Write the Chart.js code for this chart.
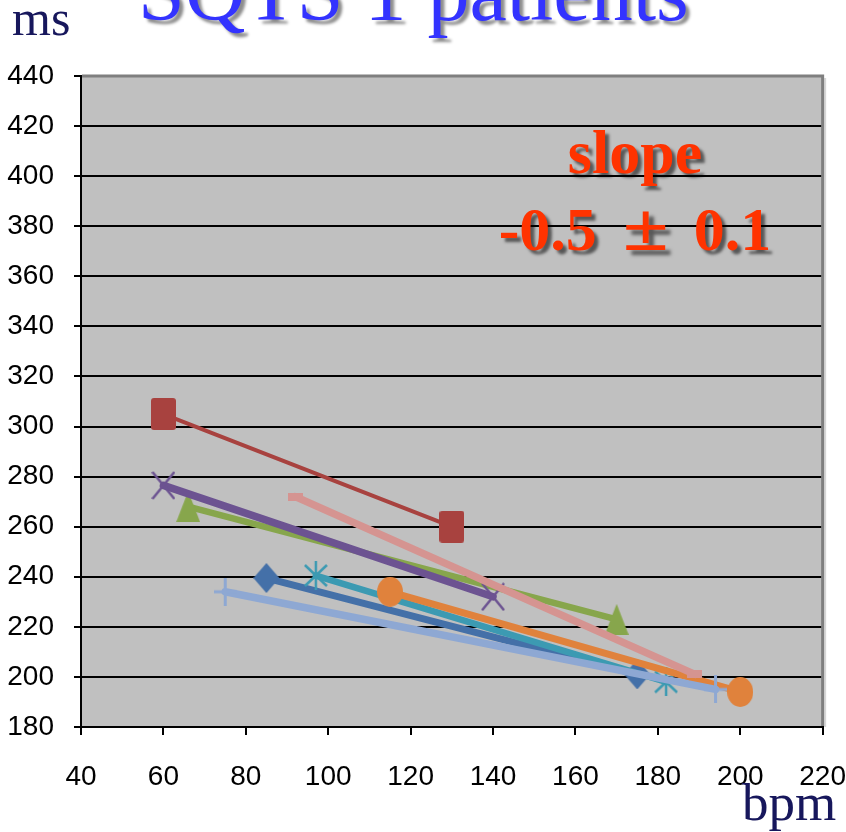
<!DOCTYPE html>
<html>
<head>
<meta charset="utf-8">
<script src="https://cdn.jsdelivr.net/npm/chart.js@4/dist/chart.umd.min.js"></script>
<style>
  html, body { margin: 0; padding: 0; background: #fff; overflow: hidden; }
  #wrap { position: relative; width: 846px; height: 832px; overflow: hidden; }
  #c { position: absolute; left: 0; top: 0; }
  .lbl { position: absolute; white-space: nowrap; line-height: 1;
         font-family: "Liberation Serif", "Times New Roman", serif; }
  #title { left: 138px; top: -50px; font-size: 84px; color: #3333FF;
           text-shadow: 4px 4px 3px rgba(0,0,0,0.45); }
  #unitY { left: 12px; top: -7px; font-size: 50px; color: #17175C; }
  #unitX { left: 742px; top: 776px; font-size: 53px; color: #17175C; }
  .slope { left: 635px; transform: translateX(-50%); font-size: 62px; font-weight: bold;
           color: #FF3300; text-shadow: 4px 4px 3px rgba(0,0,0,0.55); }
  #slope1 { top: 121px; }
  #slope2 { top: 198px; word-spacing: 16px; }
  .pm { display: inline-block; transform: scale(1.35, 1.1); transform-origin: 50% 80%; }
</style>
</head>
<body>
<div id="wrap">
  <canvas id="c" width="846" height="832"></canvas>
  <div class="lbl" id="title">SQTS 1 patients</div>
  <div class="lbl" id="unitY">ms</div>
  <div class="lbl" id="unitX">bpm</div>
  <div class="lbl slope" id="slope1">slope</div>
  <div class="lbl slope" id="slope2">-0.5 <span class="pm">±</span> 0.1</div>
</div>
<script>
// Axis ranges and ticks
const xTicks = [40, 60, 80, 100, 120, 140, 160, 180, 200, 220];
const yTicks = [180, 200, 220, 240, 260, 280, 300, 320, 340, 360, 380, 400, 420, 440];

// Heart rate (bpm) and QT interval (ms) at low and high rate, one pair per patient
const hrBlue      = [85, 175];   const qtBlue      = [239.5, 201];
const hrRed       = [60, 130];   const qtRed       = [305, 260];
const hrGreen     = [66, 170];   const qtGreen     = [268, 223];
const hrPurple    = [60, 140];   const qtPurple    = [276.5, 232];
const hrTeal      = [97, 182];   const qtTeal      = [240.5, 198];
const hrOrange    = [115, 200];  const qtOrange    = [234, 194];
const hrLightBlue = [75, 194];   const qtLightBlue = [234, 195];
const hrPink      = [92, 189];   const qtPink      = [272, 201];

// Marker sprites
function sprite(w, h, draw) {
  const c = document.createElement('canvas');
  c.width = w; c.height = h;
  draw(c.getContext('2d'), w, h);
  return c;
}
function roundRect(g, x, y, w, h, r) {
  g.beginPath();
  g.moveTo(x + r, y); g.lineTo(x + w - r, y); g.quadraticCurveTo(x + w, y, x + w, y + r);
  g.lineTo(x + w, y + h - r); g.quadraticCurveTo(x + w, y + h, x + w - r, y + h);
  g.lineTo(x + r, y + h); g.quadraticCurveTo(x, y + h, x, y + h - r);
  g.lineTo(x, y + r); g.quadraticCurveTo(x, y, x + r, y); g.closePath();
}
const mkSquare = col => sprite(25, 32, (g, w, h) => { g.fillStyle = col; roundRect(g, 0, 0, w, h, 3); g.fill(); });
const mkCircle = col => sprite(26, 30, (g, w, h) => { g.fillStyle = col; g.beginPath(); g.ellipse(w/2, h/2, w/2, h/2, 0, 0, Math.PI*2); g.fill(); });
const mkDiamond = col => sprite(26, 30, (g, w, h) => { g.fillStyle = col; g.beginPath(); g.moveTo(w/2, 0); g.lineTo(w, h/2); g.lineTo(w/2, h); g.lineTo(0, h/2); g.closePath(); g.fill(); });
const mkTriangle = col => sprite(24, 31, (g, w, h) => { g.fillStyle = col; g.beginPath(); g.moveTo(w/2, 0); g.lineTo(w, h); g.lineTo(0, h); g.closePath(); g.fill(); });
const mkX = col => sprite(24, 29, (g, w, h) => { g.strokeStyle = col; g.lineWidth = 2.5; g.beginPath(); g.moveTo(1, 1); g.lineTo(w-1, h-1); g.moveTo(w-1, 1); g.lineTo(1, h-1); g.stroke(); });
const mkStar = col => sprite(24, 29, (g, w, h) => { g.strokeStyle = col; g.lineWidth = 2.5; g.beginPath(); g.moveTo(w/2, 0); g.lineTo(w/2, h); g.moveTo(1, 4); g.lineTo(w-1, h-4); g.moveTo(w-1, 4); g.lineTo(1, h-4); g.stroke(); });
const mkPlus = col => sprite(23, 28, (g, w, h) => { g.strokeStyle = col; g.lineWidth = 3; g.beginPath(); g.moveTo(w/2, 0); g.lineTo(w/2, h); g.moveTo(0, h/2); g.lineTo(w, h/2); g.stroke(); });
const mkDash = col => sprite(15, 8, (g, w, h) => { g.fillStyle = col; g.fillRect(0, 0, w, h); });

const pts = (xs, ys) => xs.map((x, i) => ({ x, y: ys[i] }));

const series = [
  { xs: hrBlue,      ys: qtBlue,      color: '#4470A8', width: 7,   marker: mkDiamond },
  { xs: hrRed,       ys: qtRed,       color: '#A8423F', width: 4,   marker: mkSquare },
  { xs: hrGreen,     ys: qtGreen,     color: '#87A64C', width: 6.5, marker: mkTriangle },
  { xs: hrPurple,    ys: qtPurple,    color: '#6C5391', width: 7.5, marker: mkX },
  { xs: hrTeal,      ys: qtTeal,      color: '#3C9AB2', width: 6.5, marker: mkStar },
  { xs: hrOrange,    ys: qtOrange,    color: '#E0823C', width: 7,   marker: mkCircle },
  { xs: hrLightBlue, ys: qtLightBlue, color: '#8EA8D3', width: 7.5, marker: mkPlus },
  { xs: hrPink,      ys: qtPink,      color: '#D59491', width: 7.5, marker: mkDash }
];

const datasets = series.map((s, i) => ({
  data: pts(s.xs, s.ys),
  showLine: true,
  borderColor: s.color,
  backgroundColor: s.color,
  borderWidth: s.width,
  borderCapStyle: 'round',
  pointStyle: s.marker(s.color),
  pointRadius: 12,
  pointHoverRadius: 12,
  order: series.length - i   // later series are painted on top
}));

// Gray plot background and the gray top/right frame
const plotFrame = {
  id: 'plotFrame',
  beforeDraw(chart) {
    const { ctx, chartArea: a } = chart;
    ctx.save();
    ctx.fillStyle = '#C0C0C0';
    ctx.fillRect(a.left, a.top, a.right - a.left, a.bottom - a.top);
    ctx.restore();
  },
  beforeDatasetsDraw(chart) {
    const { ctx, chartArea: a } = chart;
    ctx.save();
    ctx.strokeStyle = '#D6D6D6';
    ctx.lineWidth = 2;
    ctx.beginPath();
    ctx.moveTo(a.right + 2.5, a.top + 2); ctx.lineTo(a.right + 2.5, a.bottom);
    ctx.stroke();
    ctx.strokeStyle = '#7F7F7F';
    ctx.lineWidth = 3;
    ctx.beginPath();
    ctx.moveTo(a.left + 1, a.top); ctx.lineTo(a.right, a.top); ctx.lineTo(a.right, a.bottom - 1);
    ctx.stroke();
    ctx.restore();
  }
};

// The tall line height on the x labels sets their distance below the axis
const xTickFont = { family: '"Liberation Sans", Arial, sans-serif', size: 28, lineHeight: 3.05 };
const yTickFont = { family: '"Liberation Sans", Arial, sans-serif', size: 28 };

new Chart(document.getElementById('c'), {
  type: 'scatter',
  data: { datasets },
  plugins: [plotFrame],
  options: {
    responsive: false,
    animation: false,
    layout: { padding: { top: 76, right: 0, left: 0, bottom: 0 } },
    plugins: { legend: { display: false }, tooltip: { enabled: false }, title: { display: false } },
    scales: {
      x: {
        type: 'linear',
        min: xTicks[0], max: xTicks[xTicks.length - 1],
        afterBuildTicks: s => { s.ticks = xTicks.map(v => ({ value: v })); },
        ticks: { color: '#000', font: xTickFont, padding: 0, maxRotation: 0, autoSkip: false },
        grid: { drawOnChartArea: false, drawTicks: true, tickLength: 8, color: '#000', lineWidth: 2 },
        border: { color: '#000', width: 2 },
        afterFit: s => { s.height = 105; }
      },
      y: {
        type: 'linear',
        min: yTicks[0], max: yTicks[yTicks.length - 1],
        afterBuildTicks: s => { s.ticks = yTicks.map(v => ({ value: v })); },
        ticks: { color: '#000', font: yTickFont, padding: 20, autoSkip: false },
        grid: { color: '#000', lineWidth: 2, tickLength: 7, drawTicks: true },
        border: { color: '#000', width: 2 },
        afterFit: s => { s.width = 81; }
      }
    }
  }
});
</script>
</body>
</html>
